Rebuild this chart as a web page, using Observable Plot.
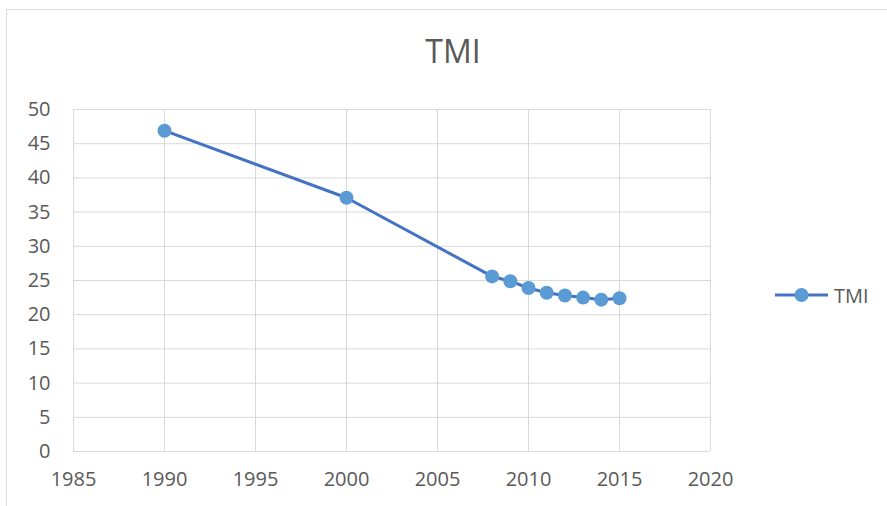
<!DOCTYPE html>
<html>
<head>
<meta charset="utf-8">
<script src="https://cdn.jsdelivr.net/npm/d3@7"></script>
<script src="https://cdn.jsdelivr.net/npm/@observablehq/plot@0.6"></script>
<style>
  html, body { margin: 0; padding: 0; background: #fff; }
  #wrap { position: relative; width: 887px; height: 506px; overflow: hidden; font-family: "Open Sans", "Liberation Sans", sans-serif; }
  #frame { position: absolute; left: 6px; top: 9px; width: 900px; height: 520px; border-left: 1px solid #d9d9d9; border-top: 1px solid #d9d9d9; }
  #title { position: absolute; left: 0; width: 906px; top: 29px; text-align: center; font-size: 32px; line-height: normal; color: #595959; }
  #legend { position: absolute; left: 775px; top: 283px; height: 24px; display: flex; align-items: center; font-size: 20px; color: #595959; }
  #chart { position: absolute; left: 0; top: 0; }
</style>
</head>
<body>
<div id="wrap">
  <div id="frame"></div>
  <div id="chart"></div>
  <div id="title">TMI</div>
  <div id="legend">
    <svg width="54" height="20" style="display:block"><line x1="0" y1="10" x2="53" y2="10" stroke="#4472C4" stroke-width="3"/><circle cx="26.5" cy="10" r="7" fill="#5B9BD5"/></svg>
    <span style="margin-left:5px">TMI</span>
  </div>
</div>
<script>
const years = [1990, 2000, 2008, 2009, 2010, 2011, 2012, 2013, 2014, 2015];
const tmi = [46.9, 37.1, 25.6, 24.9, 23.9, 23.2, 22.8, 22.5, 22.2, 22.4];
const xTicks = [1985, 1990, 1995, 2000, 2005, 2010, 2015, 2020];
const yTicks = [0, 5, 10, 15, 20, 25, 30, 35, 40, 45, 50];

const data = years.map((y, i) => ({year: y, value: tmi[i]}));

const chart = Plot.plot({
  width: 887,
  height: 506,
  marginLeft: 73,
  marginRight: 177,
  marginTop: 109,
  marginBottom: 55,
  style: {background: "transparent", fontFamily: "'Open Sans', 'Liberation Sans', sans-serif", fontSize: "20px", color: "#595959"},
  x: {domain: [1985, 2020], ticks: xTicks, tickFormat: d => String(d), label: null, tickSize: 0},
  y: {domain: [0, 50], ticks: yTicks, label: null, tickSize: 0},
  marks: [
    Plot.gridX(xTicks, {stroke: "#d9d9d9", strokeOpacity: 1, strokeWidth: 1}),
    Plot.gridY(yTicks, {stroke: "#d9d9d9", strokeOpacity: 1, strokeWidth: 1}),
    Plot.ruleY([0], {stroke: "#d9d9d9"}),
    Plot.axisX({ticks: xTicks, tickFormat: d => String(d), tickSize: 0, tickPadding: 20, fill: "#595959", fontSize: 20, label: null}),
    Plot.axisY({ticks: yTicks, tickSize: 0, tickPadding: 23, fill: "#595959", fontSize: 20, label: null}),
    Plot.line(data, {x: "year", y: "value", stroke: "#4472C4", strokeWidth: 3}),
    Plot.dot(data, {x: "year", y: "value", r: 7, fill: "#5B9BD5", stroke: "none"})
  ]
});
document.getElementById("chart").appendChild(chart);
</script>
</body>
</html>
